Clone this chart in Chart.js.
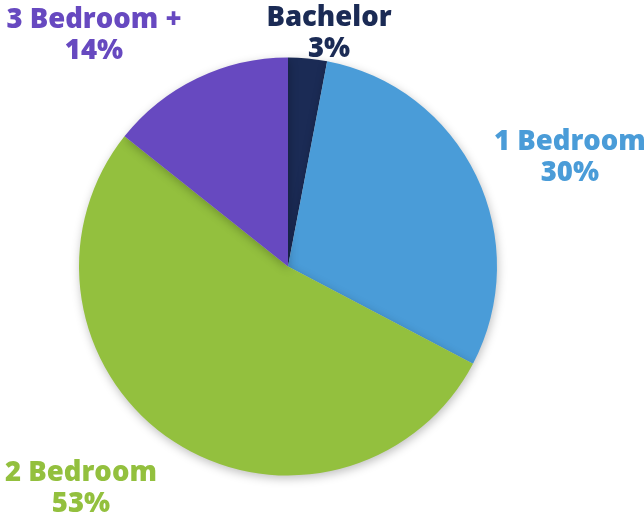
<!DOCTYPE html>
<html><head><meta charset="utf-8">
<script src="https://cdn.jsdelivr.net/npm/chart.js@4"></script>
<style>html,body{margin:0;padding:0;background:#fff;}#wrap{width:644px;height:517px;position:relative;}</style>
</head><body><div id="wrap"><canvas id="c"></canvas></div>
<script>
const categories = ["Bachelor", "1 Bedroom", "2 Bedroom", "3 Bedroom +"];
const shares = [3, 29.7, 53, 14.3];
const percentLabels = ["3%", "30%", "53%", "14%"];
const sliceColors = ["#1B2B55", "#4A9CD8", "#93C03E", "#6749C0"];
const labelColors = ["#1B2B55", "#4A9CD8", "#93C03E", "#6749C0"];
// label placement relative to each slice: angle shift (deg) and distance factor of radius
const labelPlacement = [
  {dAng: 4.5, dist: 1.141},
  {dAng: 4.3, dist: 1.449},
  {dAng: 10.2, dist: 1.444},
  {dAng: -14.1, dist: 1.449}
];
const FONT = '"Open Sans", "DejaVu Sans", sans-serif';

const shadowPlugin = {
  id: 'shadow',
  beforeDatasetsDraw(chart) {
    const ctx = chart.ctx; ctx.save();
    ctx.shadowColor = 'rgba(0,0,0,0.25)'; ctx.shadowBlur = 10; ctx.shadowOffsetX = 1; ctx.shadowOffsetY = 3;
  },
  afterDatasetsDraw(chart) { chart.ctx.restore(); }
};
const labelPlugin = {
  id: 'outLabels',
  afterDraw(chart) {
    const ctx = chart.ctx;
    const meta = chart.getDatasetMeta(0);
    meta.data.forEach((arc, i) => {
      const p = labelPlacement[i];
      const mid = (arc.startAngle + arc.endAngle) / 2 + p.dAng * Math.PI / 180;
      const r = arc.outerRadius * p.dist;
      const x = arc.x + Math.cos(mid) * r;
      const y = arc.y + Math.sin(mid) * r;
      ctx.save();
      ctx.fillStyle = labelColors[i];
      ctx.font = '800 27.5px ' + FONT;
      ctx.textAlign = 'center'; ctx.textBaseline = 'alphabetic';
      ctx.fillText(categories[i], x, y - 5.5);
      ctx.fillText(percentLabels[i], x, y + 25.5);
      ctx.restore();
    });
  }
};

new Chart(document.getElementById('c'), {
  type: 'pie',
  data: { labels: categories, datasets: [{ data: shares, backgroundColor: sliceColors, borderWidth: 0, hoverOffset: 0 }] },
  options: {
    responsive: true, maintainAspectRatio: false, animation: false,
    layout: { padding: { top: 57.5, bottom: 41.5, left: 79, right: 147 } },
    plugins: { legend: { display: false }, tooltip: { enabled: false } }
  },
  plugins: [shadowPlugin, labelPlugin]
});
</script></body></html>
